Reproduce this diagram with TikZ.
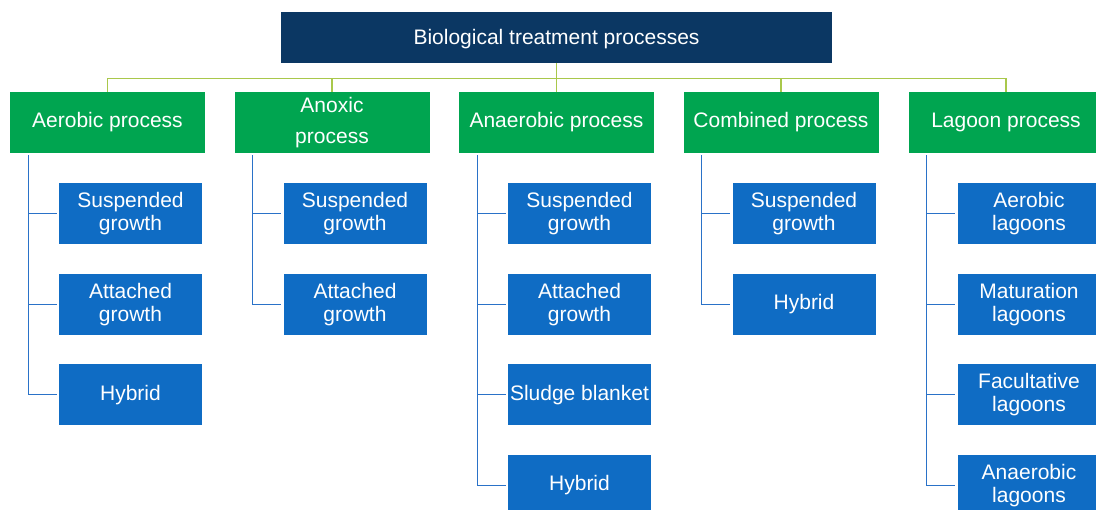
\documentclass[tikz,border=0pt]{standalone}
\usepackage{fontspec}
\setmainfont{Liberation Sans}
\usepackage{tikz}
\usetikzlibrary{positioning, calc}
\definecolor{cNavy}   {HTML}{0B3763}
\definecolor{cGreen}  {HTML}{00A550}
\definecolor{cBlue}   {HTML}{0F6CC4}
\definecolor{cBusLine}{HTML}{A9C84B}
\definecolor{cKidLine}{HTML}{2A72C8}

\begin{document}
\begin{tikzpicture}[x=1pt, y=1pt,
    headbox/.style={fill=cNavy, text=white, minimum width=551pt, minimum height=51pt,
                    inner sep=0pt, text depth=1pt, font=\fontsize{21}{23}\selectfont},
    procbox/.style={fill=cGreen, text=white, minimum width=195pt, minimum height=61pt,
                    inner sep=0pt, align=center, font=\fontsize{21}{23}\selectfont},
    kidbox/.style={fill=cBlue, text=white, minimum width=143pt, minimum height=61pt,
                   inner sep=0pt, align=center, font=\fontsize{21}{23}\selectfont},
    busline/.style={draw=cBusLine, line width=1.2pt},
    kidline/.style={draw=cKidLine, line width=1.3pt},
  ]
  \useasboundingbox (0,0) rectangle (1096,-510);
  % header
  \node[headbox] (bio) at (556.5,-37.5) {Biological treatment processes};
  % process row
  \node[procbox] (aer)   at (107.5,-122.5) {Aerobic process\strut};
  \node[procbox] (anox)  at (332,-122.5)   {Anoxic\\[8pt]process};
  \node[procbox] (anaer) at (556.5,-122.5) {Anaerobic process\strut};
  \node[procbox] (comb)  at (781,-122.5)   {Combined process\strut};
  \node[procbox] (lag)   at (1006,-122.5)  {Lagoon process\strut};
  \foreach \p in {aer, anox, anaer, comb, lag}{
    \draw[busline] (bio.south) -- ++(0,-15) -| (\p.north);
  }
  % sub-processes
  \foreach \p/\kids in {
      aer/{Suspended\\growth, Attached\\growth, Hybrid},
      anox/{Suspended\\growth, Attached\\growth},
      anaer/{Suspended\\growth, Attached\\growth, Sludge blanket, Hybrid},
      comb/{Suspended\\growth, Hybrid},
      lag/{Aerobic\\lagoons, Maturation\\lagoons, Facultative\\lagoons, Anaerobic\\lagoons}}{
    \foreach \k [count=\i] in \kids{
      \node[kidbox] (\p\i) at ($(\p)+(23,{-91-90.67*(\i-1)})$) {\k};
      \draw[kidline] ([xshift=18.5pt, yshift=-2pt]\p.south west) |- ([xshift=-2pt]\p\i.west);
    }
  }
\end{tikzpicture}
\end{document}
